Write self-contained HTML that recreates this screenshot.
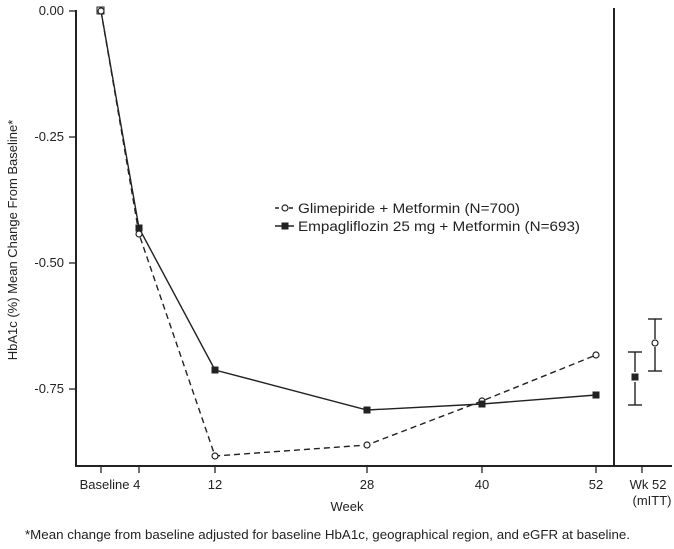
<!DOCTYPE html>
<html><head><style>body{margin:0;background:#fff}svg{display:block}text{font-family:"Liberation Sans",Arial,sans-serif;fill:#222}</style></head><body>
<svg width="674" height="549" viewBox="0 0 674 549">
<g stroke="#222" stroke-width="2" fill="none">
<line x1="76" y1="10" x2="76" y2="466"/>
<line x1="75" y1="466" x2="672" y2="466"/>
<line x1="614" y1="8" x2="614" y2="466"/>
</g>
<g stroke="#222" stroke-width="1.3">
<line x1="69" y1="11" x2="76" y2="11"/><line x1="69" y1="137" x2="76" y2="137"/>
<line x1="69" y1="263" x2="76" y2="263"/><line x1="69" y1="389" x2="76" y2="389"/>
<line x1="101" y1="466" x2="101" y2="473"/><line x1="139" y1="466" x2="139" y2="473"/>
<line x1="215" y1="466" x2="215" y2="473"/><line x1="367" y1="466" x2="367" y2="473"/>
<line x1="482" y1="466" x2="482" y2="473"/><line x1="596" y1="466" x2="596" y2="473"/>
<line x1="642" y1="466" x2="642" y2="473"/>
</g>
<g font-size="13" text-anchor="end">
<text x="64" y="15">0.00</text><text x="64" y="141">-0.25</text>
<text x="64" y="267">-0.50</text><text x="64" y="393">-0.75</text>
</g>
<g font-size="13" text-anchor="middle">
<text x="110" y="489">Baseline 4</text><text x="215" y="489">12</text>
<text x="367" y="489">28</text><text x="482" y="489">40</text><text x="596" y="489">52</text>
<text x="648" y="489">Wk 52</text><text x="652" y="505">(mITT)</text>
<text x="347" y="511">Week</text>
</g>
<text x="17" y="240" font-size="13" text-anchor="middle" transform="rotate(-90 17 240)">HbA1c (%) Mean Change From Baseline*</text>
<text x="25" y="539" font-size="12.5" textLength="605" lengthAdjust="spacingAndGlyphs">*Mean change from baseline adjusted for baseline HbA1c, geographical region, and eGFR at baseline.</text>
<polyline points="101,11 139,234 215,456 367,445 482,401 596,355" fill="none" stroke="#222" stroke-width="1.4" stroke-dasharray="6,4"/>
<polyline points="101,11 139,228 215,370 367,410 482,404 596,395" fill="none" stroke="#222" stroke-width="1.4"/>
<g fill="#fff" stroke="#222" stroke-width="1.2">
<circle cx="101" cy="11" r="3"/><circle cx="139" cy="234" r="3"/><circle cx="215" cy="456" r="3"/>
<circle cx="367" cy="445" r="3"/><circle cx="482" cy="401" r="3"/><circle cx="596" cy="355" r="3"/>
</g>
<g fill="#222">
<rect x="97" y="7" width="7" height="7" fill="none" stroke="#222"/>
<rect x="135.5" y="224.5" width="7" height="7"/><rect x="211.5" y="366.5" width="7" height="7"/>
<rect x="363.5" y="406.5" width="7" height="7"/><rect x="478.5" y="400.5" width="7" height="7"/>
<rect x="592.5" y="391.5" width="7" height="7"/>
</g>
<g stroke="#222" stroke-width="1.4">
<line x1="635" y1="352" x2="635" y2="372"/><line x1="635" y1="382" x2="635" y2="405"/>
<line x1="628" y1="352" x2="642" y2="352"/><line x1="628" y1="405" x2="642" y2="405"/>
<line x1="655" y1="319" x2="655" y2="339"/><line x1="655" y1="347" x2="655" y2="371"/>
<line x1="648" y1="319" x2="662" y2="319"/><line x1="648" y1="371" x2="662" y2="371"/>
</g>
<rect x="631.5" y="373.5" width="7" height="7" fill="#222"/>
<circle cx="655" cy="343" r="3" fill="#fff" stroke="#222" stroke-width="1.2"/>
<g stroke="#222" stroke-width="1.4">
<line x1="275" y1="208" x2="294" y2="208" stroke-dasharray="4,3"/>
<line x1="275" y1="226" x2="294" y2="226"/>
</g>
<circle cx="285" cy="208" r="3" fill="#fff" stroke="#222" stroke-width="1.2"/>
<rect x="281.5" y="222.5" width="7" height="7" fill="#222"/>
<text x="298" y="213" font-size="13.5" textLength="222" lengthAdjust="spacingAndGlyphs">Glimepiride + Metformin (N=700)</text>
<text x="298" y="231" font-size="13.5" textLength="282" lengthAdjust="spacingAndGlyphs">Empagliflozin 25 mg + Metformin (N=693)</text>
</svg>
</body></html>
